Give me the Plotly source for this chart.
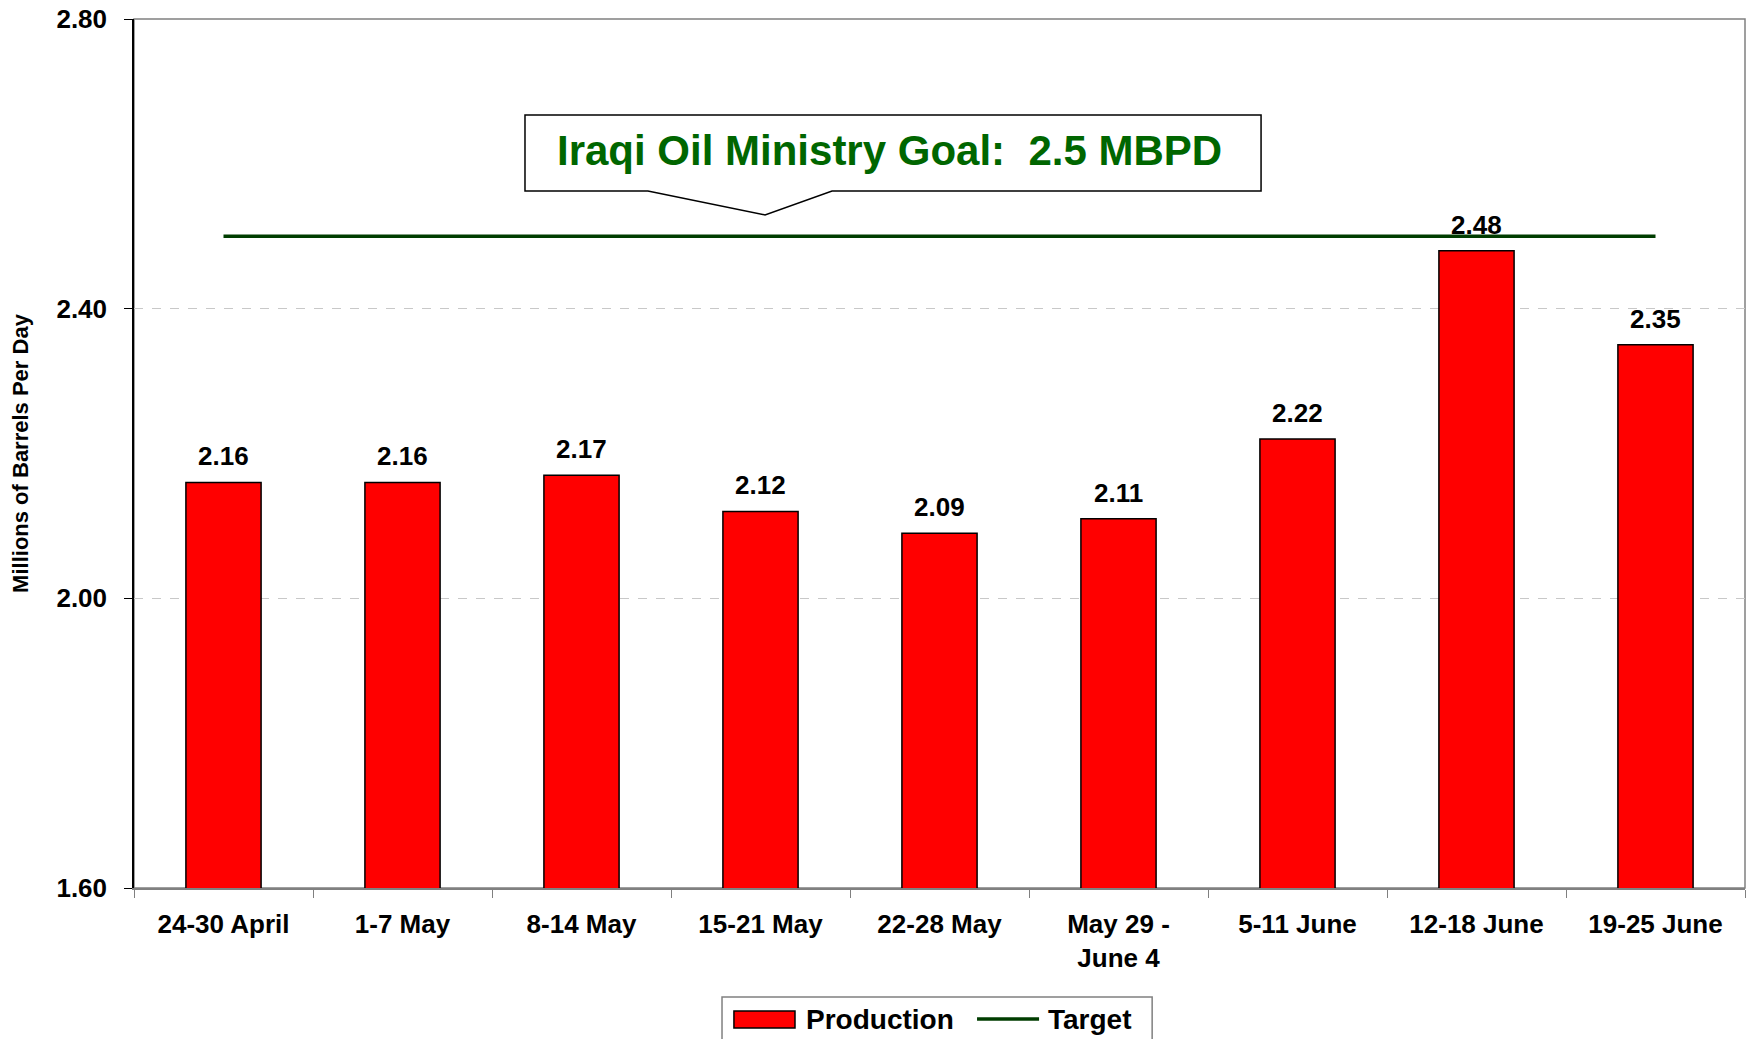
import plotly.graph_objects as go

categories = ["24-30 April", "1-7 May", "8-14 May", "15-21 May", "22-28 May",
              "May 29 -<br>June 4", "5-11 June", "12-18 June", "19-25 June"]
production = [2.16, 2.16, 2.17, 2.12, 2.09, 2.11, 2.22, 2.48, 2.35]
target = [2.5] * len(categories)
y_ticks = [1.60, 2.00, 2.40, 2.80]
goal_text = "Iraqi Oil Ministry Goal:  2.5 MBPD"

FONT = "Liberation Sans, Arial, sans-serif"
NARROW = "Liberation Sans Narrow, Arial Narrow, " + FONT
fig = go.Figure()
fig.add_trace(go.Bar(
    x=categories, y=production, name="Production",
    marker=dict(color="#FF0000", line=dict(color="#000000", width=1.5)),
    width=0.42, showlegend=False,
))
fig.add_trace(go.Scatter(
    x=categories, y=target, name="Target", mode="lines",
    line=dict(color="#003D00", width=3.5), showlegend=False,
))

for c, v in zip(categories, production):
    fig.add_annotation(x=c, y=v, text=f"{v:.2f}", showarrow=False,
                       yanchor="bottom", yshift=9,
                       font=dict(family=FONT, size=26, color="#000000", weight="bold"))

# Callout box with pointer (paper coordinates)
x0, x1 = 0.2427, 0.6996
y0, y1 = 0.8021, 0.8895
bx1, bx2 = 0.319, 0.4333
tx, ty = 0.3917, 0.7745
path = (f"M {x0},{y1} L {x1},{y1} L {x1},{y0} L {bx2},{y0} L {tx},{ty} "
        f"L {bx1},{y0} L {x0},{y0} Z")
fig.add_shape(type="path", path=path, xref="paper", yref="paper",
              fillcolor="white", line=dict(color="black", width=1.5), layer="above")
fig.add_annotation(x=(x0 + x1) / 2 - 0.002, y=(y0 + y1) / 2 + 0.003, xref="paper", yref="paper",
                   xanchor="center", yanchor="middle",
                   text=goal_text, showarrow=False,
                   font=dict(family=NARROW, size=42, color="#006600", weight="bold"))

# plot frame (top/right gray)
fig.add_shape(type="rect", xref="paper", yref="paper", x0=0, x1=1, y0=0, y1=1,
              line=dict(color="#808080", width=1.5), layer="below")

# legend drawn below the plot
fig.add_shape(type="rect", xref="paper", yref="paper", x0=0.365, x1=0.632,
              y0=-0.185, y1=-0.1254, line=dict(color="#808080", width=1.5),
              fillcolor="white")
fig.add_shape(type="rect", xref="paper", yref="paper", x0=0.3724, x1=0.4103,
              y0=-0.1611, y1=-0.1415, line=dict(color="#000000", width=1.5),
              fillcolor="#FF0000")
fig.add_shape(type="line", xref="paper", yref="paper", x0=0.5233, x1=0.5618,
              y0=-0.1508, y1=-0.1508, line=dict(color="#003D00", width=3.5))
fig.add_annotation(x=0.4159, y=-0.1508, xref="paper", yref="paper", text="Production",
                   xanchor="left", yanchor="middle", showarrow=False,
                   font=dict(family=FONT, size=28, color="#000000", weight="bold"))
fig.add_annotation(x=0.5661, y=-0.1508, xref="paper", yref="paper", text="Target",
                   xanchor="left", yanchor="middle", showarrow=False,
                   font=dict(family=FONT, size=28, color="#000000", weight="bold"))

fig.update_layout(
    width=1751, height=1039,
    margin=dict(l=134, r=6, t=19, b=151),
    plot_bgcolor="white", paper_bgcolor="white",
    bargap=0.58,
    showlegend=False,
    xaxis=dict(
        automargin=False,
        tickfont=dict(family=FONT, size=26, color="#000000", weight="bold"),
        ticks="outside", tickson="boundaries", ticklen=8, tickcolor="#808080",
        ticklabelstandoff=12,
        showline=True, linecolor="#808080", linewidth=1.5,
        showgrid=False,
    ),
    yaxis=dict(
        automargin=False,
        range=[1.6, 2.8], tickvals=y_ticks, tickformat=".2f",
        tickfont=dict(family=FONT, size=26, color="#000000", weight="bold"),
        ticks="outside", ticklen=8, tickcolor="#000000",
        ticklabelstandoff=12, ticklabeloverflow="allow",
        showline=True, linecolor="#000000", linewidth=1.5,
        showgrid=True, gridcolor="#C8C8C8", griddash="dash", gridwidth=1,
        zeroline=False,
        title=dict(text="Millions of Barrels Per Day",
                   font=dict(family=NARROW, size=22, color="#000000", weight="bold"),
                   standoff=22),
    ),
)

fig.write_html("out.html", config={"displayModeBar": False},
               post_script="document.body.style.margin='0';document.body.style.overflow='hidden';")
